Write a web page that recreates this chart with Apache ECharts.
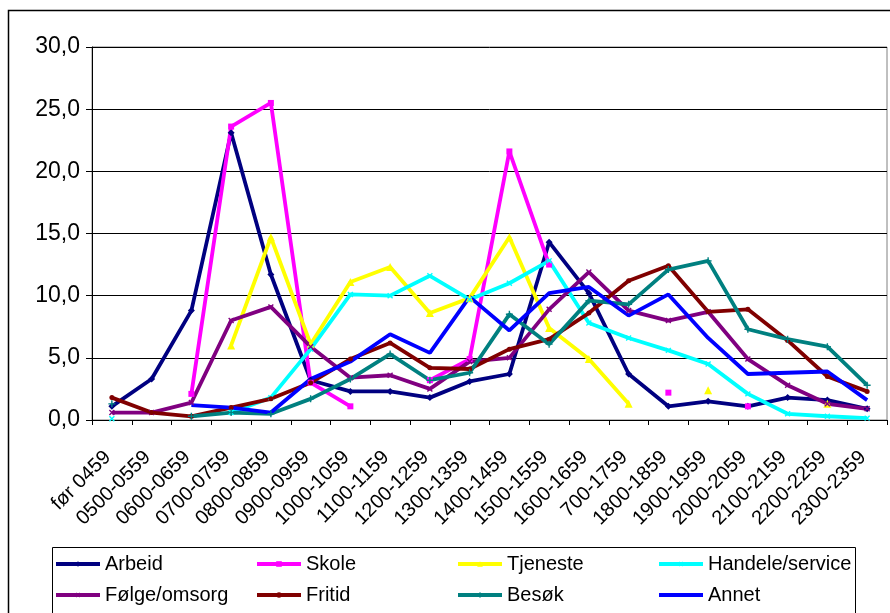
<!DOCTYPE html>
<html>
<head>
<meta charset="utf-8">
<script src="https://cdn.jsdelivr.net/npm/echarts@6/dist/echarts.min.js"></script>
<style>
html,body{margin:0;padding:0;background:#fff;}
#chart{width:890px;height:613px;}
</style>
</head>
<body>
<div id="chart"></div>
<script>
const categories = ['før 0459','0500-0559','0600-0659','0700-0759','0800-0859','0900-0959','1000-1059','1100-1159','1200-1259','1300-1359','1400-1459','1500-1559','1600-1659','700-1759','1800-1859','1900-1959','2000-2059','2100-2159','2200-2259','2300-2359'];
const yTicks = [0, 5, 10, 15, 20, 25, 30];

const arbeid   = [1.1, 3.3, 8.8, 23.1, 11.7, 3.2, 2.3, 2.3, 1.8, 3.1, 3.7, 14.3, 10.2, 3.7, 1.1, 1.5, 1.1, 1.8, 1.6, 0.9];
const skole    = [null, null, 2.1, 23.6, 25.5, 3.0, 1.1, null, 3.2, 4.9, 21.6, 12.5, null, null, 2.2, null, 1.1, null, null, null];
const tjeneste = [null, null, null, 6.0, 14.7, 6.1, 11.1, 12.3, 8.6, 9.8, 14.7, 7.4, 4.9, 1.3, null, 2.4, null, null, 1.3, null];
const handele  = [0.1, null, null, 0.6, 1.8, 5.7, 10.1, 10.0, 11.6, 9.7, 11.0, 12.8, 7.8, 6.6, 5.6, 4.5, 2.1, 0.5, 0.3, 0.15];
const folge    = [0.6, 0.6, 1.4, 8.0, 9.1, 5.9, 3.4, 3.6, 2.5, 4.7, 5.0, 8.9, 11.9, 8.8, 8.0, 8.7, 4.9, 2.8, 1.3, 0.9];
const fritid   = [1.8, 0.6, 0.3, 1.0, 1.7, 3.0, 4.9, 6.2, 4.2, 4.1, 5.7, 6.5, 8.6, 11.2, 12.4, 8.7, 8.9, 6.4, 3.5, 2.3];
const besok    = [1.3, null, 0.3, 0.6, 0.5, 1.7, 3.3, 5.3, 3.2, 3.8, 8.5, 6.1, 9.6, 9.3, 12.1, 12.8, 7.3, 6.5, 5.9, 2.8];
const annet    = [null, null, 1.2, 1.0, 0.6, 3.3, 4.7, 6.9, 5.4, 9.9, 7.2, 10.2, 10.7, 8.4, 10.1, 6.6, 3.7, 3.8, 3.9, 1.6];

const seriesNames = ['Arbeid','Skole','Tjeneste','Handele/service','Følge/omsorg','Fritid','Besøk','Annet'];
const seriesData = [arbeid, skole, tjeneste, handele, folge, fritid, besok, annet];
const seriesColors = ['#000080','#FF00FF','#FFFF00','#00FFFF','#800080','#800000','#008080','#0000FF'];
const plusPath = 'path://M4,0h2v4h4v2h-4v4h-2v-4h-4v-2h4z';
const seriesSymbols = ['diamond','rect','triangle',plusPath,plusPath,'circle',plusPath,'none'];
const seriesRotate = [0,0,0,45,45,0,0,0];
const seriesSymbolSize = [7,6,8,7,7,5,7,4];

const FONT = '"Liberation Sans", Arial, sans-serif';

const chart = echarts.init(document.getElementById('chart'), null, {renderer:'canvas'});

const series = seriesNames.map((n, i) => ({
  name: n,
  type: 'line',
  data: seriesData[i],
  connectNulls: false,
  symbol: seriesSymbols[i],
  symbolRotate: seriesRotate[i],
  symbolSize: seriesSymbolSize[i],
  showSymbol: true,
  showAllSymbol: true,
  animation: false,
  lineStyle: {color: seriesColors[i], width: 3.8},
  itemStyle: {color: seriesColors[i], borderWidth: 0},
  emphasis: {disabled: true}
}));

const legendData = seriesNames.map(n => n === 'Annet'
  ? {name: n, itemStyle: {opacity: 0}}
  : {name: n});

chart.setOption({
  animation: false,
  backgroundColor: '#fff',
  textStyle: {fontFamily: FONT, color: '#000'},
  grid: {left: 92, right: 3, top: 47, bottom: 193, show: true, borderColor: '#808080', borderWidth: 1, backgroundColor: 'transparent'},
  xAxis: {
    type: 'category',
    data: categories,
    boundaryGap: true,
    axisLine: {show: true, lineStyle: {color: '#000', width: 1}},
    axisTick: {show: true, length: 5, inside: false, alignWithLabel: false, lineStyle: {color: '#000'}},
    axisLabel: {rotate: 45, fontSize: 20, fontFamily: FONT, color: '#000', margin: 30, interval: 0, padding: [0, 6, 0, 0]},
    splitLine: {show: false}
  },
  yAxis: {
    type: 'value',
    min: yTicks[0],
    max: yTicks[yTicks.length - 1],
    interval: 5,
    axisLine: {show: true, lineStyle: {color: '#000', width: 1}},
    axisTick: {show: true, length: 6, inside: false, lineStyle: {color: '#000'}},
    axisLabel: {fontSize: 23, fontFamily: FONT, color: '#000', margin: 12, formatter: v => v.toFixed(1).replace('.', ',')},
    splitLine: {show: true, lineStyle: {color: '#000', width: 1}}
  },
  legend: {
    left: 54,
    top: 549,
    width: 830,
    padding: 0,
    itemGap: 1,
    itemWidth: 44,
    itemHeight: 7,
    selectedMode: false,
    data: legendData,
    lineStyle: {width: 4},
    textStyle: {fontSize: 20, fontFamily: FONT, color: '#000', width: 149, lineHeight: 30, overflow: 'none'}
  },
  graphic: [
    {type: 'rect', shape: {x: 8.5, y: 10.5, width: 900, height: 700}, style: {fill: 'none', stroke: '#000', lineWidth: 1.5}, silent: true, z: -1},
    {type: 'rect', shape: {x: 52.5, y: 547.5, width: 803, height: 100}, style: {fill: 'none', stroke: '#000', lineWidth: 1}, silent: true, z: -1}
  ],
  series: series
});
</script>
</body>
</html>
